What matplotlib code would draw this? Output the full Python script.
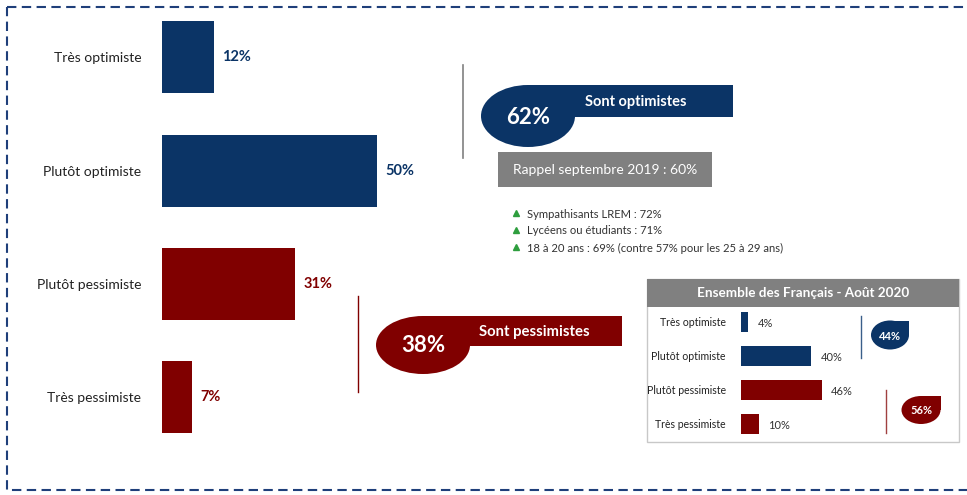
import matplotlib.pyplot as plt
from matplotlib.patches import Rectangle, Ellipse

plt.rcParams['font.family'] = ['Lato', 'DejaVu Sans']

# données principales
categories = ['Très optimiste', 'Plutôt optimiste', 'Plutôt pessimiste', 'Très pessimiste']
values = [12, 50, 31, 7]
total_optimistes = 62
total_pessimistes = 38
rappel_2019 = 60
details = ['Sympathisants LREM : 72%', 'Lycéens ou étudiants : 71%',
           '18 à 20 ans : 69% (contre 57% pour les 25 à 29 ans)']

# ensemble des Français - août 2020
values_fr = [4, 40, 46, 10]
total_opt_fr = 44
total_pes_fr = 56

BLUE = '#0b3466'
RED = '#800000'
GREY = '#808080'
colors = [BLUE, BLUE, RED, RED]

W, H = 967, 495
fig = plt.figure(figsize=(W / 100, H / 100), dpi=100)


def box(x0, y0, x1, y1):
    # pixels (origine en haut à gauche) -> coordonnées figure
    return [x0 / W, 1 - y1 / H, (x1 - x0) / W, (y1 - y0) / H]


# calque de fond en pixels pour les formes
bg = fig.add_axes([0, 0, 1, 1], zorder=0)
bg.set_xlim(0, W)
bg.set_ylim(H, 0)
bg.axis('off')

# cadre pointillé
bg.add_patch(Rectangle((7, 7), 975, 483, fill=False, ec='#1f3f7a', lw=1.5,
                       linestyle=(0, (4.5, 2.6))))


def goutte(cx, cy, w, h, color, label, fs):
    # ovale avec le coin haut-droit en angle
    bg.add_patch(Ellipse((cx, cy), w, h, color=color, lw=0))
    bg.add_patch(Rectangle((cx, cy - h / 2), w / 2, h / 2, color=color, lw=0))
    bg.text(cx, cy + 1, label, color='white', fontsize=fs, fontweight='bold',
            ha='center', va='center')


# bloc optimistes
bg.plot([463, 463], [65, 158], color=GREY, lw=1.2)
bg.add_patch(Rectangle((573, 85), 160, 32, color=BLUE, lw=0))
goutte(528, 116, 94, 62, BLUE, f'{total_optimistes}%', 16)
bg.text(636, 102, 'Sont optimistes', color='white', fontsize=10.5,
        fontweight='bold', ha='center', va='center')

bg.add_patch(Rectangle((498, 152), 214, 35, color=GREY, lw=0))
bg.text(605, 170, f'Rappel septembre 2019 : {rappel_2019}%', color='white',
        fontsize=10, ha='center', va='center')

for i, txt in enumerate(details):
    yy = 214 + i * 17
    bg.plot(516, yy - 1, marker='^', color='#2e9e3e', ms=5)
    bg.text(527, yy, txt, color='#333333', fontsize=8.1, va='center')

# bloc pessimistes
bg.plot([358, 358], [296, 392], color=RED, lw=1)
bg.add_patch(Rectangle((470, 316), 152, 30, color=RED, lw=0))
goutte(423, 345, 94, 58, RED, f'{total_pessimistes}%', 16)
bg.text(534, 332, 'Sont pessimistes', color='white', fontsize=10.7,
        fontweight='bold', ha='center', va='center')

# encadré ensemble des Français
bg.add_patch(Rectangle((647, 279), 312, 163, fill=False, ec='#c8c8c8', lw=1))
bg.add_patch(Rectangle((647, 279), 312, 28, color=GREY, lw=0))
bg.text(803, 293, 'Ensemble des Français - Août 2020', color='white',
        fontsize=9.7, fontweight='bold', ha='center', va='center')
bg.plot([861, 861], [316, 358], color='#3a5f8a', lw=1)
bg.plot([886, 886], [390, 433], color='#a04040', lw=1)
goutte(890, 335, 38, 29, BLUE, f'{total_opt_fr}%', 8)
goutte(921, 410, 39, 28, RED, f'{total_pes_fr}%', 8)

# graphique principal
ax = fig.add_axes(box(162, 0.8, 162 + 4.3 * 100, 454), zorder=1)
ax.patch.set_alpha(0)
ypos = range(len(categories))
ax.barh(ypos, values, height=0.635, color=colors)
ax.set_xlim(0, 100)
ax.set_ylim(3.5, -0.5)
for s in ax.spines.values():
    s.set_visible(False)
ax.set_xticks([])
ax.set_yticks(list(ypos))
ax.set_yticklabels(categories, fontsize=10, color='#222222')
ax.tick_params(axis='y', length=0, pad=15)
for y, v, c in zip(ypos, values, colors):
    ax.text(v + 1.9, y, f'{v}%', color=c, fontsize=10.5, fontweight='bold',
            va='center')

# mini graphique
ax2 = fig.add_axes(box(741, 305, 741 + 175, 441), zorder=1)
ax2.patch.set_alpha(0)
ax2.barh(ypos, values_fr, height=0.59, color=colors)
ax2.set_xlim(0, 100)
ax2.set_ylim(3.5, -0.5)
for s in ax2.spines.values():
    s.set_visible(False)
ax2.set_xticks([])
ax2.set_yticks(list(ypos))
ax2.set_yticklabels(categories, fontsize=7.6, color='#222222')
ax2.tick_params(axis='y', length=0, pad=11)
for y, v in zip(ypos, values_fr):
    ax2.text(v + 5.5, y + 0.05, f'{v}%', color='#333333', fontsize=8,
             va='center')

fig.savefig('out.png', dpi=100)
